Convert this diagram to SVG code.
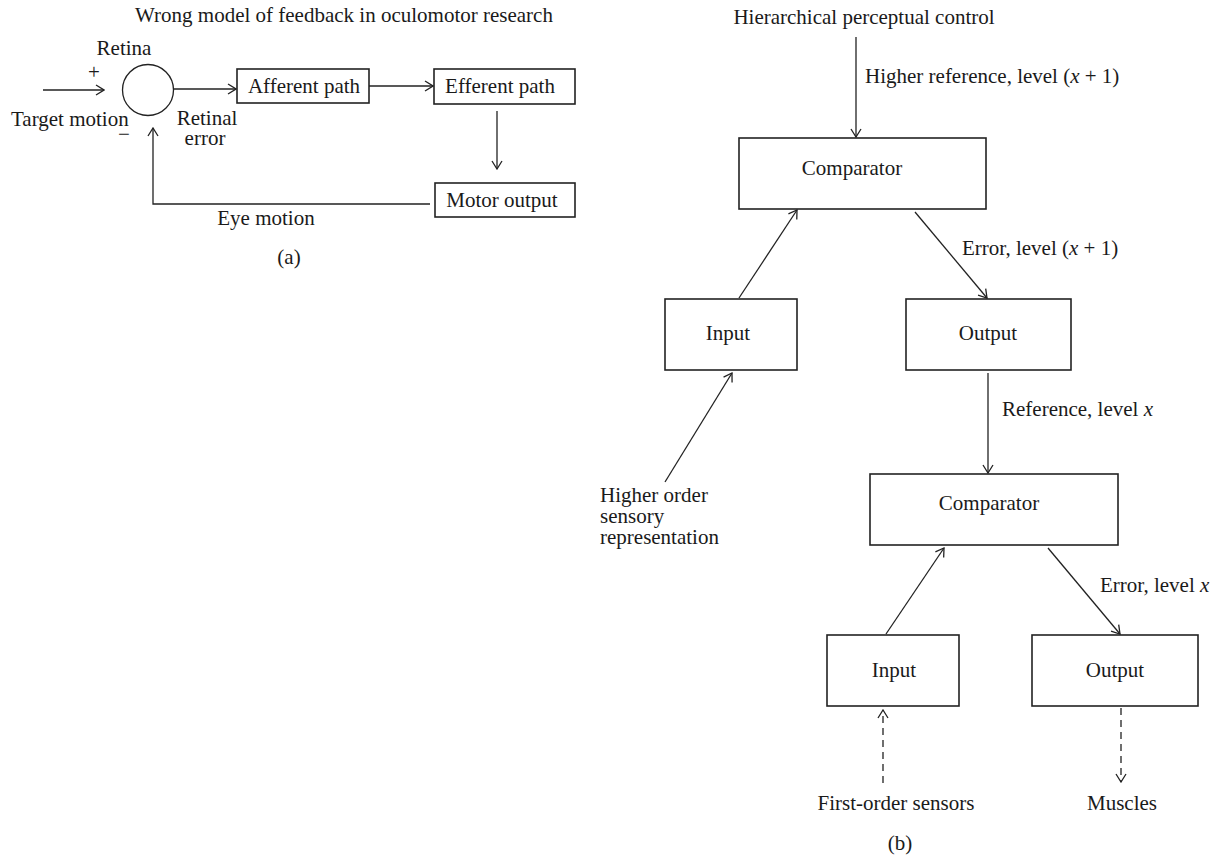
<svg xmlns="http://www.w3.org/2000/svg" width="1212" height="856" viewBox="0 0 1212 856">
<style>
text{font-family:"Liberation Serif","Times New Roman",serif;font-size:21px;fill:#1a1a1a}
.box{fill:#fff;stroke:#222;stroke-width:1.6}
.ln{fill:none;stroke:#222;stroke-width:1.3}
.dash{stroke-dasharray:7,5}
.m{text-anchor:middle}
</style>
<defs>
<marker id="ah" viewBox="0 0 10 12" refX="9" refY="6" markerWidth="10" markerHeight="12" markerUnits="userSpaceOnUse" orient="auto">
<path d="M1,1 L9,6 L1,11" fill="none" stroke="#222" stroke-width="1.3"/>
</marker>
</defs>
<rect width="1212" height="856" fill="#fff"/>

<!-- Panel (a) -->
<text class="m" x="344" y="22">Wrong model of feedback in oculomotor research</text>
<g id="retina">
<circle cx="148" cy="90" r="25.5" class="ln" stroke-width="1.4"/>
<text class="m" x="124" y="55">Retina</text>
<text class="m" x="94" y="79">+</text>
<text class="m" x="124" y="141">−</text>
</g>
<g id="afferent"><rect class="box" x="237" y="69" width="132" height="34"/><text class="m" x="304" y="93">Afferent path</text></g>
<g id="efferent"><rect class="box" x="434" y="69" width="141" height="35"/><text class="m" x="500" y="93">Efferent path</text></g>
<g id="motor"><rect class="box" x="435" y="183" width="140" height="34"/><text class="m" x="502" y="207">Motor output</text></g>
<text x="11" y="126">Target motion</text>
<text class="m" x="207" y="125">Retinal</text>
<text class="m" x="205" y="145">error</text>
<text class="m" x="266" y="225">Eye motion</text>
<text class="m" x="289" y="264">(a)</text>

<!-- Panel (b) -->
<text class="m" x="864" y="24">Hierarchical perceptual control</text>
<g id="comp1"><rect class="box" x="739" y="138" width="247" height="71"/><text class="m" x="852" y="175">Comparator</text></g>
<g id="input1"><rect class="box" x="665" y="299" width="132" height="71"/><text class="m" x="728" y="340">Input</text></g>
<g id="output1"><rect class="box" x="906" y="299" width="165" height="71"/><text class="m" x="988" y="340">Output</text></g>
<g id="comp2"><rect class="box" x="870" y="474" width="248" height="71"/><text class="m" x="989" y="510">Comparator</text></g>
<g id="input2"><rect class="box" x="827" y="635" width="132" height="71"/><text class="m" x="894" y="677">Input</text></g>
<g id="output2"><rect class="box" x="1032" y="635" width="166" height="71"/><text class="m" x="1115" y="677">Output</text></g>

<text x="865" y="83">Higher reference, level (<tspan font-style="italic">x</tspan> + 1)</text>
<text x="962" y="255">Error, level (<tspan font-style="italic">x</tspan> + 1)</text>
<text x="1002" y="416">Reference, level <tspan font-style="italic">x</tspan></text>
<text x="1100" y="592">Error, level <tspan font-style="italic">x</tspan></text>
<text x="600" y="502">Higher order</text>
<text x="600" y="523">sensory</text>
<text x="600" y="544">representation</text>
<text class="m" x="896" y="810">First-order sensors</text>
<text class="m" x="1122" y="810">Muscles</text>
<text class="m" x="900" y="850">(b)</text>

<g id="connectors">
<line class="ln" x1="43" y1="90" x2="104" y2="90" marker-end="url(#ah)"/>
<line class="ln" x1="174" y1="89" x2="236" y2="89" marker-end="url(#ah)"/>
<line class="ln" x1="369" y1="86" x2="433" y2="86" marker-end="url(#ah)"/>
<line class="ln" x1="497" y1="111" x2="497" y2="169" marker-end="url(#ah)"/>
<polyline class="ln" points="430,204 153,204 153,128" marker-end="url(#ah)"/>

<line class="ln" x1="856" y1="37" x2="856" y2="137" marker-end="url(#ah)"/>
<line class="ln" x1="739" y1="298" x2="797" y2="210" marker-end="url(#ah)"/>
<line class="ln" x1="915" y1="212" x2="987" y2="298" marker-end="url(#ah)"/>
<line class="ln" x1="665" y1="482" x2="732" y2="373" marker-end="url(#ah)"/>
<line class="ln" x1="988" y1="373" x2="988" y2="473" marker-end="url(#ah)"/>
<line class="ln" x1="886" y1="634" x2="944" y2="548" marker-end="url(#ah)"/>
<line class="ln" x1="1048" y1="548" x2="1120" y2="634" marker-end="url(#ah)"/>
<line class="ln dash" x1="883" y1="783" x2="883" y2="710" marker-end="url(#ah)"/>
<line class="ln dash" x1="1121" y1="708" x2="1121" y2="782" marker-end="url(#ah)"/>
</g>
</svg>
